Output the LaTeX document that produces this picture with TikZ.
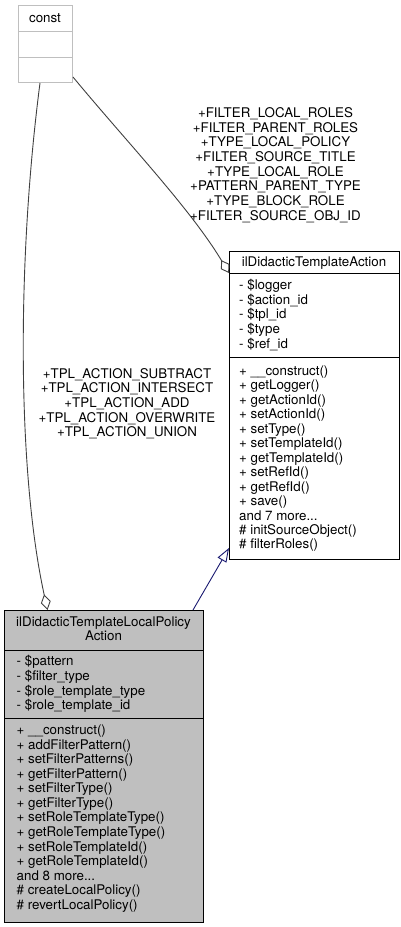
\documentclass[tikz,border=0pt]{standalone}
\usepackage{fontspec}
\setmainfont{TeX Gyre Heros}
\usetikzlibrary{arrows.meta,calc}
\definecolor{navyedge}{HTML}{191970}
\definecolor{edgegray}{HTML}{404040}
\definecolor{boxgray}{HTML}{BFBFBF}
\newcommand\dgfont{\fontsize{13.33}{14.6}\selectfont}
\newcommand\mytdots{...}
\begin{document}
\begin{tikzpicture}[x=1pt,y=-1pt,
  classbox/.style={draw=black, line width=1pt, inner sep=0pt, anchor=north west},
  txt/.style={font=\dgfont, inner sep=0pt, anchor=base west},
  ctxt/.style={font=\dgfont, inner sep=0pt, anchor=base},
  divider/.style={line width=1pt},
  edge/.style={draw=edgegray, line width=0.9pt},
  inherit/.style={draw=navyedge, line width=0.9pt}]
\useasboundingbox (0,0) rectangle (401,927);

% const box
\node[classbox, draw=boxgray, minimum width=54pt, minimum height=77pt] (const) at (18,5) {};
\draw[divider, boxgray] (const.west |- 0,31.5) -- (const.east |- 0,31.5);
\draw[divider, boxgray] (const.west |- 0,57) -- (const.east |- 0,57);
\node[ctxt] (consttitle) at (45,22) {const};

% ilDidacticTemplateAction
\node[classbox, fill=white, minimum width=170pt, minimum height=308pt] (action) at (229,251) {};
\draw[divider] (action.west |- 0,273) -- (action.east |- 0,273);
\draw[divider] (action.west |- 0,357) -- (action.east |- 0,357);
\node[ctxt] (actiontitle) at (314,266) {ilDidacticTemplateAction};
\foreach \t [count=\i] in {- \$logger, - \$action\_id, - \$tpl\_id, - \$type, - \$ref\_id}
  \node[txt] (aa\i) at (239, {289.5+(\i-1)*14.7}) {\t};
\foreach \t [count=\i] in {+ \_\_construct(), + getLogger(), + getActionId(), + setActionId(), + setType(), + setTemplateId(), + getTemplateId(), + setRefId(), + getRefId(), + save(), {and 7 more\mytdots}, \# initSourceObject(), \# filterRoles()}
  \node[txt] (am\i) at (239, {375.5+(\i-1)*14.45}) {\t};

% ilDidacticTemplateLocalPolicyAction
\node[classbox, fill=boxgray, minimum width=199pt, minimum height=312pt] (policy) at (4,610) {};
\draw[divider] (policy.west |- 0,650) -- (policy.east |- 0,650);
\draw[divider] (policy.west |- 0,718) -- (policy.east |- 0,718);
\node[ctxt] (policytitleA) at (103.5,626.3) {ilDidacticTemplateLocalPolicy};
\node[ctxt] (policytitleB) at (103.5,640.8) {Action};
\foreach \t [count=\i] in {- \$pattern, - \$filter\_type, - \$role\_template\_type, - \$role\_template\_id}
  \node[txt] (pa\i) at (16.5, {665.5+(\i-1)*14.8}) {\t};
\foreach \t [count=\i] in {+ \_\_construct(), + addFilterPattern(), + setFilterPatterns(), + getFilterPattern(), + setFilterType(), + getFilterType(), + setRoleTemplateType(), + getRoleTemplateType(), + setRoleTemplateId(), + getRoleTemplateId(), {and 8 more\mytdots}, \# createLocalPolicy(), \# revertLocalPolicy()}
  \node[txt] (pm\i) at (16.5, {734.5+(\i-1)*14.57}) {\t};

% connectors
\coordinate (constR) at (const.east |- 0,77);
\coordinate (actD) at (action.west |- 0,273);
\draw[edge, -{Diamond[open, length=15pt, width=10pt]}] (constR) .. controls (125,140) and (190,208) .. (actD);

\coordinate (constB) at (const.south -| 40,0);
\coordinate (polD) at (policy.north -| 47.5,0);
\draw[edge, -{Diamond[open, length=16pt, width=10pt]}] (constB) .. controls (17,260) and (17,470) .. (polD);

\coordinate (polI) at (policy.north -| 193,0);
\coordinate (actI) at (action.west |- 0,548);
\draw[inherit, -{Triangle[open, length=14pt, width=10pt]}] (polI) -- (actI);

% edge labels
\foreach \t [count=\i] in {+FILTER\_LOCAL\_ROLES, +FILTER\_PARENT\_ROLES, +TYPE\_LOCAL\_POLICY, +FILTER\_SOURCE\_TITLE, +TYPE\_LOCAL\_ROLE, +PATTERN\_PARENT\_TYPE, +TYPE\_BLOCK\_ROLE, +FILTER\_SOURCE\_OBJ\_ID}
  \node[ctxt] (la\i) at (275.5, {117.5+(\i-1)*14.65}) {\t};
\foreach \t [count=\i] in {+TPL\_ACTION\_SUBTRACT, +TPL\_ACTION\_INTERSECT, +TPL\_ACTION\_ADD, +TPL\_ACTION\_OVERWRITE, +TPL\_ACTION\_UNION}
  \node[ctxt] (lb\i) at (127, {378.3+(\i-1)*14.6}) {\t};
\end{tikzpicture}
\end{document}
